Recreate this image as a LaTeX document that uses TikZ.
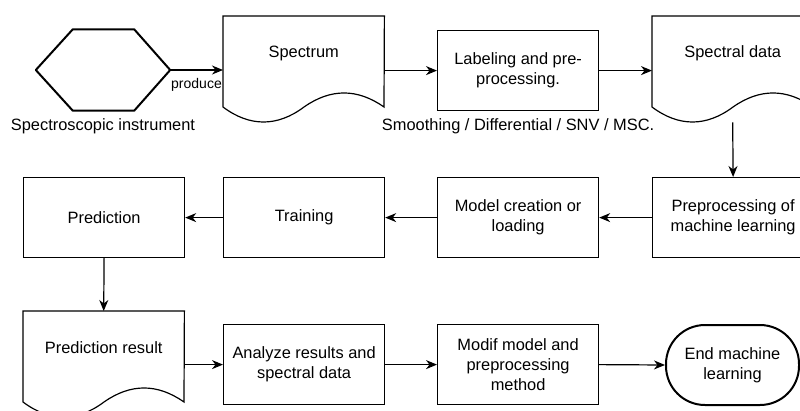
\documentclass[tikz,border=0pt]{standalone}
\usepackage{fontspec}
\setmainfont{Liberation Sans}
\usetikzlibrary{arrows.meta,calc}
\tikzset{
  x=1pt, y=-1pt,
  every node/.style={font=\fontsize{16.4}{20}\selectfont},
  lineb/.style={draw=black, line width=1.2pt},
  boxn/.style={lineb, minimum width=161pt, minimum height=80pt, inner sep=0pt, align=center, anchor=north west},
  docn/.style={minimum width=161pt, minimum height=106pt, inner sep=0pt, anchor=north west},
  txt/.style={inner sep=0pt, align=center},
  lbl/.style={inner sep=0pt, font=\fontsize{14}{16}\selectfont},
  arr/.style={draw=black, line width=1.2pt, -{Stealth[length=11pt, width=9pt, inset=3.5pt]}},
}
\newcommand\docoutline[1]{%
  \draw[lineb] (#1.north west) -- (#1.north east)
    -- ($(#1.north west)+(161,91)$)
    .. controls ($(#1.north west)+(134.3,72.3)$) and ($(#1.north west)+(107.7,72.3)$) .. ($(#1.north west)+(81,91)$)
    .. controls ($(#1.north west)+(54.3,111)$) and ($(#1.north west)+(26.7,111)$) .. ($(#1.north west)+(0,91)$)
    -- cycle;}
\begin{document}
\begin{tikzpicture}
\useasboundingbox (0,0) rectangle (800,410);
\clip (0,0) rectangle (800,410);
\fill[white] (0,0) rectangle (800,410);

% row 1
\node[minimum width=134pt, minimum height=81pt, inner sep=0pt] (hex) at (103,70) {};
\draw[draw=black, line width=2pt, line join=round]
  (hex.west) -- ($(hex.north west)+(37,0)$) -- ($(hex.north east)+(-36,0)$) -- (hex.east)
  -- ($(hex.south east)+(-36,0)$) -- ($(hex.south west)+(37,0)$) -- cycle;
\node[txt, anchor=north] (hexL) at ($(hex.south)+(0,8)$) {Spectroscopic instrument};

\node[docn] (spec) at (223,16) {};
\docoutline{spec}
\node[txt] (specT) at ($(spec.north)+(0,37)$) {Spectrum};

\node[boxn] (lab) at (437,30) {Labeling and pre-\\processing.};
\node[txt, anchor=north] (labL) at ($(lab.south)+(0,7)$) {Smoothing / Differential / SNV / MSC.};

\node[docn] (sdata) at (652,16) {};
\docoutline{sdata}
\node[txt] (sdataT) at ($(sdata.north)+(0,37)$) {Spectral data};

% row 2
\node[boxn] (ppml) at (652,177) {Preprocessing of\\machine learning};
\node[boxn] (model) at (437,177) {Model creation or\\loading};
\node[boxn] (train) at (223,177) {Training};
\node[boxn] (pred) at (23,177) {Prediction};

% row 3
\node[docn] (pres) at (23,311) {};
\docoutline{pres}
\node[txt] (presT) at ($(pres.north)+(0,37)$) {Prediction result};
\node[boxn] (ana) at (223,324) {Analyze results and\\spectral data};
\node[boxn] (modif) at (437,324) {Modif model and\\preprocessing\\method};
\node[draw=black, line width=2pt, rounded corners=39pt, minimum width=133pt, minimum height=80pt, inner sep=0pt, align=center, anchor=north west] (endn) at (665,324) {End machine\\learning};

% connectors
\draw[arr] (hex.east) -- (hex.east -| spec.west);
\node[lbl, anchor=east] (prodL) at ($(hex.east -| spec.west)+(-1,15)$) {produce};
\draw[arr] (spec.east |- lab.west) -- (lab.west);
\draw[arr] (lab.east) -- (lab.east -| sdata.west);
\draw[arr] (sdata.south) -- (ppml.north);
\draw[arr] (ppml.west) -- (model.east);
\draw[arr] (model.west) -- (train.east);
\draw[arr] (train.west) -- (pred.east);
\draw[arr] (pred.south) -- (pres.north);
\draw[arr] (pres.east |- ana.west) -- (ana.west);
\draw[arr] (ana.east) -- (modif.west);
\draw[arr] (modif.east) -- (endn.west);
\end{tikzpicture}
\end{document}
